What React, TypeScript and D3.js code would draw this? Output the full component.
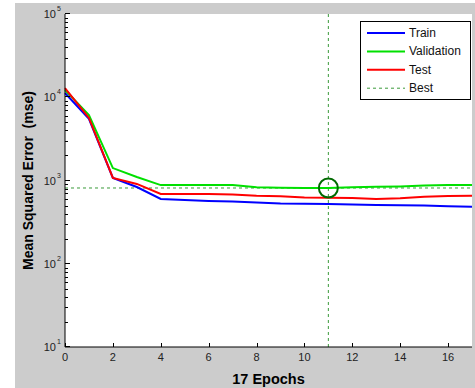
import React from 'react';
import * as d3 from 'd3';

// epochs 0..17
const epochs = d3.range(0, 18);
const trainMse = [11250, 5500, 1075, 835, 600, 584, 568, 560, 545, 530, 525, 523, 515, 508, 505, 500, 490, 485];
const validationMse = [12200, 6100, 1410, 1100, 880, 880, 880, 880, 830, 820, 815, 813, 830, 840, 850, 870, 880, 885];
const testMse = [12900, 5640, 1075, 910, 690, 690, 690, 680, 655, 645, 625, 620, 615, 600, 610, 640, 650, 655];
const bestEpoch = 11;
const bestValue = 813;
const xTicks = [0, 2, 4, 6, 8, 10, 12, 14, 16];
const yDecades = [1, 2, 3, 4, 5];
const legendItems = [
  { name: 'Train', color: '#0000ff', dash: '' },
  { name: 'Validation', color: '#00e000', dash: '' },
  { name: 'Test', color: '#ff0000', dash: '' },
  { name: 'Best', color: '#3a9a3a', dash: '3,3' },
];

const W = 475;
const H = 388;
const left = 65, right = 472, top = 14, bottom = 347;

const App = () => {
  const x = d3.scaleLinear().domain([0, 17]).range([left, right]);
  const y = d3.scaleLog().domain([10, 100000]).range([bottom, top]);

  const line = (vals: number[]) =>
    d3.line<number>().x((_, i) => x(epochs[i])).y(d => y(d))(vals) || '';

  const minorTicks: number[] = [];
  for (let e = 1; e < 5; e++) {
    for (let m = 2; m <= 9; m++) minorTicks.push(m * Math.pow(10, e));
  }

  const font = 'Arial, "Liberation Sans", sans-serif';

  return (
    <svg width={W} height={H} style={{ position: 'absolute', left: 0, top: 0, background: '#fff' }}>
      <rect x={15} y={3} width={W - 15} height={H - 3} fill="#cccccc" />
      <rect x={left} y={top} width={right - left} height={bottom - top} fill="#fff" />

      {/* best lines */}
      <line x1={left} x2={right} y1={y(bestValue)} y2={y(bestValue)} stroke="#3a9a3a" strokeDasharray="3,3" strokeWidth={1} />
      <line x1={x(bestEpoch)} x2={x(bestEpoch)} y1={top} y2={bottom} stroke="#3a9a3a" strokeDasharray="3,3" strokeWidth={1} />

      <path d={line(trainMse)} fill="none" stroke="#0000ff" strokeWidth={2} />
      <path d={line(validationMse)} fill="none" stroke="#00e000" strokeWidth={2} />
      <path d={line(testMse)} fill="none" stroke="#ff0000" strokeWidth={2} />

      <circle cx={x(bestEpoch)} cy={y(bestValue)} r={9.5} fill="none" stroke="#006a00" strokeWidth={2} />

      {/* axes */}
      <line x1={left} x2={left} y1={top} y2={bottom} stroke="#000" />
      <line x1={left} x2={right} y1={bottom} y2={bottom} stroke="#000" />
      {minorTicks.map(t => (
        <line key={'m' + t} x1={left} x2={left + 3} y1={Math.round(y(t)) + 0.5} y2={Math.round(y(t)) + 0.5} stroke="#000" />
      ))}
      {yDecades.map(e => (
        <g key={'d' + e}>
          <line x1={left} x2={left + 5} y1={Math.round(y(Math.pow(10, e))) - 0.5} y2={Math.round(y(Math.pow(10, e))) - 0.5} stroke="#000" />
          <text x={56} y={y(Math.pow(10, e)) + 4} textAnchor="end" fontFamily={font} fontSize={11} fill="#222">10</text>
          <text x={57} y={y(Math.pow(10, e)) - 3} fontFamily={font} fontSize={7} fill="#222">{e}</text>
        </g>
      ))}
      {xTicks.map(t => (
        <g key={'x' + t}>
          <line x1={Math.round(x(t)) + 0.5} x2={Math.round(x(t)) + 0.5} y1={bottom} y2={bottom - 4} stroke="#000" />
          <text x={x(t)} y={361} textAnchor="middle" fontFamily={font} fontSize={11} fill="#222">{t}</text>
        </g>
      ))}

      <text x={(left + right) / 2} y={384} textAnchor="middle" fontFamily={font} fontSize={14.5} fontWeight="bold">17 Epochs</text>
      <text transform={`translate(33,${(top + bottom) / 2}) rotate(-90)`} textAnchor="middle" fontFamily={font} fontSize={14} fontWeight="bold">
        {'Mean Squared Error\u00a0\u00a0(mse)'}
      </text>

      {/* legend */}
      <rect x={360.5} y={21.5} width={110} height={78} fill="#fff" stroke="#000" />
      {legendItems.map((d, i) => (
        <g key={d.name} transform={`translate(0,${33 + i * 18.4})`}>
          <line x1={367} x2={405} y1={0} y2={0} stroke={d.color} strokeWidth={d.dash ? 1 : 2} strokeDasharray={d.dash} />
          <text x={409} y={4} fontFamily={font} fontSize={12} fill="#111">{d.name}</text>
        </g>
      ))}
    </svg>
  );
};

export default App;
